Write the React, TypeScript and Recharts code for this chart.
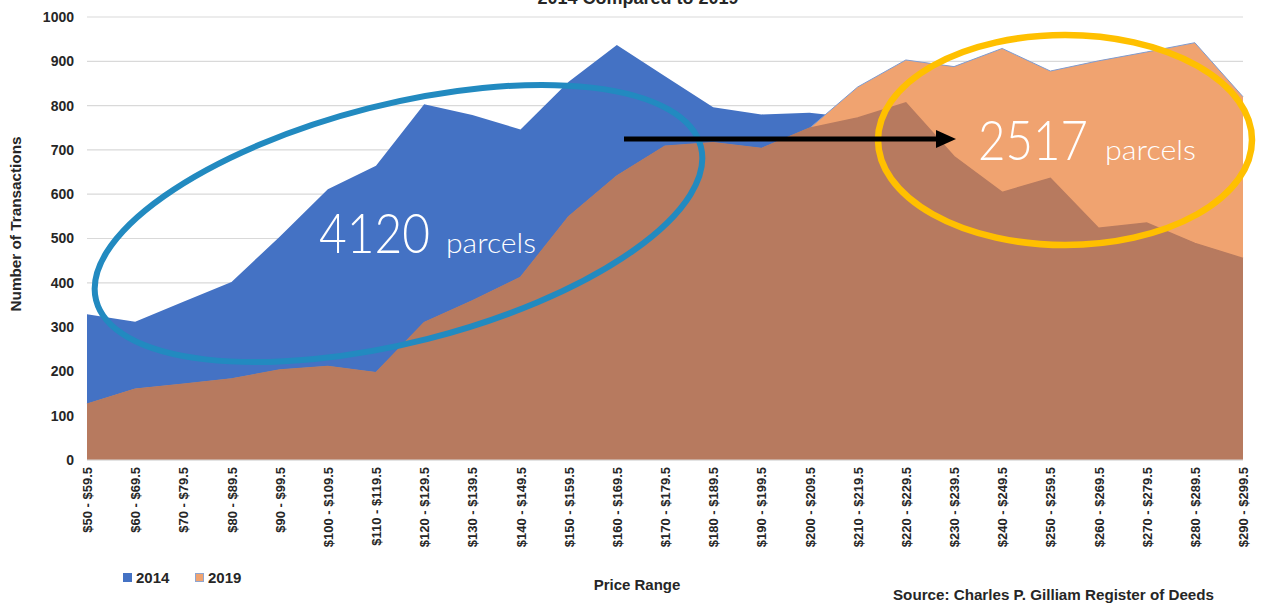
import React from 'react';
import { AreaChart, Area, XAxis, YAxis, CartesianGrid } from 'recharts';

const categories = [
  '$50 - $59.5', '$60 - $69.5', '$70 - $79.5', '$80 - $89.5', '$90 - $99.5',
  '$100 - $109.5', '$110 - $119.5', '$120 - $129.5', '$130 - $139.5', '$140 - $149.5',
  '$150 - $159.5', '$160 - $169.5', '$170 - $179.5', '$180 - $189.5', '$190 - $199.5',
  '$200 - $209.5', '$210 - $219.5', '$220 - $229.5', '$230 - $239.5', '$240 - $249.5',
  '$250 - $259.5', '$260 - $269.5', '$270 - $279.5', '$280 - $289.5', '$290 - $299.5',
];
const sales2014 = [329, 312, 357, 402, 504, 611, 664, 803, 779, 746, 854, 937, 866, 796, 780, 784, 772, 806, 685, 604, 636, 523, 535, 489, 455];
const sales2019 = [126, 160, 171, 183, 203, 211, 197, 310, 359, 412, 549, 641, 708, 716, 703, 749, 842, 903, 888, 929, 878, 901, 921, 942, 820];
const yTicks = [0, 100, 200, 300, 400, 500, 600, 700, 800, 900, 1000];
const seriesNames = ['2014', '2019'];
const titleText = '2014 Compared to 2019';
const yTitle = 'Number of Transactions';
const xTitle = 'Price Range';
const sourceText = 'Source: Charles P. Gilliam Register of Deeds';
const note2014 = { big: '4120', small: 'parcels' };
const note2019 = { big: '2517', small: 'parcels' };

const BLUE = '#4472C4';
const ORANGE = '#F0A370';
const BROWN = '#B77A5F';
const FONT = "'Liberation Sans', Arial, sans-serif";
const THIN = "Lato, 'Open Sans', 'DejaVu Sans', sans-serif";

const data = categories.map((c, i) => ({
  range: c,
  y2014: sales2014[i],
  y2019: sales2019[i],
  overlap: Math.min(sales2014[i], sales2019[i]),
}));

const XTick = (props: any) => {
  const { x, y, payload } = props;
  return (
    <text
      transform={`translate(${x + 5},${y}) rotate(-90)`}
      textAnchor="end"
      fontSize={13}
      fontWeight="bold"
      fill="#262626"
      fontFamily={FONT}
    >
      {payload.value}
    </text>
  );
};

export default function App() {
  return (
    <div style={{ position: 'absolute', left: 0, top: 0, width: 1261, height: 604, background: '#fff' }}>
      <AreaChart
        width={1261}
        height={604}
        data={data}
        margin={{ top: 17, right: 18, left: 0, bottom: 0 }}
      >
        <CartesianGrid vertical={false} stroke="#D9D9D9" strokeWidth={1.2} />
        <XAxis
          dataKey="range"
          height={144}
          interval={0}
          tickLine={false}
          tickSize={0}
          tickMargin={7}
          axisLine={{ stroke: '#D9D9D9' }}
          tick={<XTick />}
        />
        <YAxis
          width={87}
          domain={[0, 1000]}
          ticks={yTicks}
          axisLine={false}
          tickLine={false}
          tickSize={0}
          tickMargin={13}
          tick={{ fontSize: 14, fontWeight: 'bold', fill: '#262626', fontFamily: FONT }}
        />
        <Area
          type="linear"
          dataKey="y2014"
          name={seriesNames[0]}
          fill={BLUE}
          fillOpacity={1}
          stroke="none"
          isAnimationActive={false}
        />
        <Area
          type="linear"
          dataKey="y2019"
          name={seriesNames[1]}
          fill={ORANGE}
          fillOpacity={1}
          stroke="#7F9BCF"
          strokeWidth={1}
          isAnimationActive={false}
        />
        <Area
          type="linear"
          dataKey="overlap"
          fill={BROWN}
          fillOpacity={1}
          stroke={BROWN}
          strokeWidth={1.5}
          legendType="none"
          isAnimationActive={false}
        />
      </AreaChart>
      <svg
        width={1261}
        height={604}
        style={{ position: 'absolute', left: 0, top: 0, pointerEvents: 'none' }}
      >
        <text x={638} y={4} textAnchor="middle" fontSize={18} fontWeight="bold" fill="#262626" fontFamily={FONT}>
          {titleText}
        </text>
        <text
          transform="translate(21,224) rotate(-90)"
          textAnchor="middle"
          fontSize={15}
          fontWeight="bold"
          fill="#262626"
          fontFamily={FONT}
          textLength={175}
          lengthAdjust="spacingAndGlyphs"
        >
          {yTitle}
        </text>
        <ellipse
          cx={398.5}
          cy={223.5}
          rx={312}
          ry={119}
          transform="rotate(-14.25 398.5 223.5)"
          fill="none"
          stroke="#228AC0"
          strokeWidth={6}
        />
        <ellipse cx={1065} cy={140} rx={187} ry={105} fill="none" stroke="#FFC000" strokeWidth={6.5} />
        <line x1={624} y1={139} x2={938} y2={139} stroke="#000" strokeWidth={5} />
        <polygon points="936,130 956,139 936,148" fill="#000" />
        <text x={319} y={253} fill="#fff" fontFamily={THIN} fontWeight={300} fontSize={56} textLength={111} lengthAdjust="spacingAndGlyphs">
          {note2014.big}
        </text>
        <text x={446} y={253} fill="#fff" fontFamily={THIN} fontWeight={300} fontSize={27} textLength={90} lengthAdjust="spacingAndGlyphs">
          {note2014.small}
        </text>
        <text x={978} y={160} fill="#fff" fontFamily={THIN} fontWeight={300} fontSize={56} textLength={110} lengthAdjust="spacingAndGlyphs">
          {note2019.big}
        </text>
        <text x={1105} y={160} fill="#fff" fontFamily={THIN} fontWeight={300} fontSize={27} textLength={91} lengthAdjust="spacingAndGlyphs">
          {note2019.small}
        </text>
        <rect x={123} y={573} width={9} height={9} fill={BLUE} />
        <text x={136} y={583} fontSize={15} fontWeight="bold" fill="#262626" fontFamily={FONT}>
          {seriesNames[0]}
        </text>
        <rect x={195.5} y={573.5} width={8} height={8} fill={ORANGE} stroke="#8FA5CF" strokeWidth={1} />
        <text x={208} y={583} fontSize={15} fontWeight="bold" fill="#262626" fontFamily={FONT}>
          {seriesNames[1]}
        </text>
        <text x={637} y={590} textAnchor="middle" fontSize={15} fontWeight="bold" fill="#262626" fontFamily={FONT}>
          {xTitle}
        </text>
        <text x={893} y={600} fontSize={15} fontWeight="bold" fill="#262626" fontFamily={FONT} textLength={321} lengthAdjust="spacingAndGlyphs">
          {sourceText}
        </text>
      </svg>
    </div>
  );
}
